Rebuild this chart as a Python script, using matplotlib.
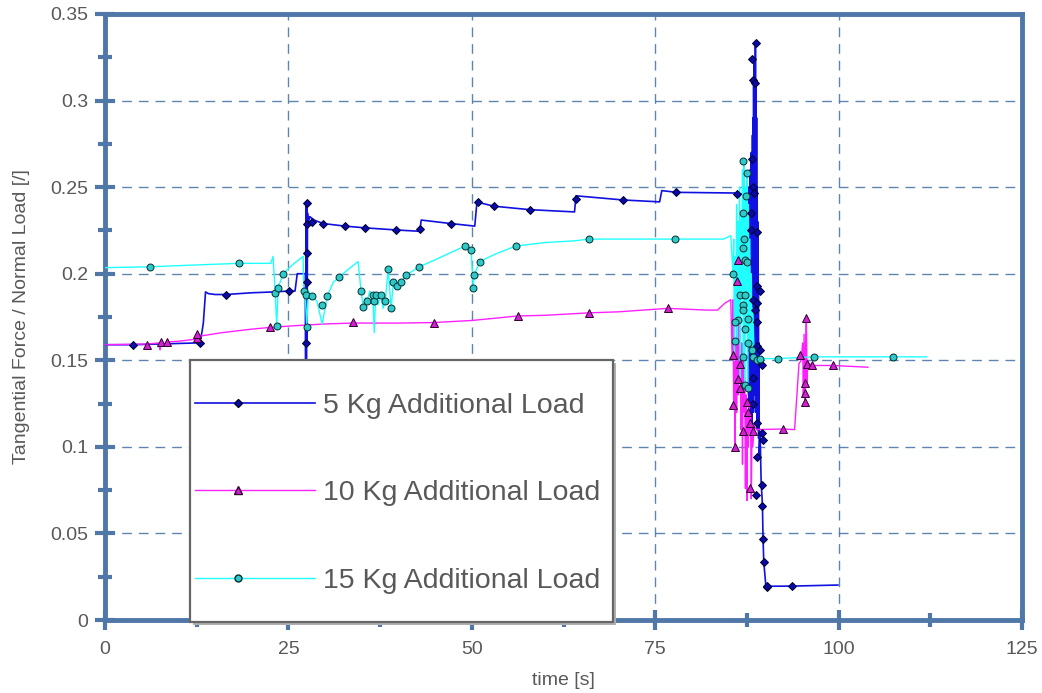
from matplotlib import pyplot as plt
from matplotlib.lines import Line2D
from matplotlib.patches import Rectangle
from matplotlib.legend_handler import HandlerLine2DCompound
from matplotlib.ticker import MultipleLocator

# 5 Kg additional load: line samples
t5 = [0.0, 3.8, 8.0, 12.3, 12.9, 13.2, 13.4, 13.7, 14.1, 15.0, 16.5, 20.0, 23.0, 25.1, 25.9, 26.2,
      27.0, 27.3, 27.35, 27.4, 27.45, 27.5, 27.55, 27.6, 27.7, 27.9, 28.5, 29.7, 32.7, 35.4, 39.6,
      42.9, 43.1, 47.1, 50.4, 50.7, 53.0, 57.9, 64.0, 64.2, 70.6, 75.6, 75.9, 77.9, 86.1, 87.0,
      87.60, 87.65, 87.70, 87.74, 87.78, 87.82, 87.86, 87.90, 87.94, 87.98, 88.02, 88.06, 88.10,
      88.14, 88.18, 88.22, 88.26, 88.30, 88.34, 88.38, 88.42, 88.46, 88.50, 88.54, 88.58, 88.62,
      88.66, 88.70, 88.74, 88.78, 88.82, 88.86, 88.90, 88.94, 88.98, 89.02, 89.06, 89.10, 89.14,
      89.18, 89.30, 89.45, 89.55, 89.62, 89.70, 89.80, 90.1, 90.3, 93.7, 99.8, 99.9]
f5 = [0.159, 0.159, 0.1595, 0.16, 0.16, 0.166, 0.1715, 0.1895, 0.1885, 0.188, 0.188, 0.189, 0.1895,
      0.19, 0.19, 0.2, 0.2, 0.2, 0.14, 0.24, 0.15, 0.241, 0.16, 0.235, 0.229, 0.233, 0.231, 0.229,
      0.2275, 0.2265, 0.2253, 0.2245, 0.231, 0.229, 0.2275, 0.2414, 0.239, 0.237, 0.2357, 0.245,
      0.2426, 0.2415, 0.248, 0.247, 0.2466, 0.246,
      0.246, 0.17, 0.25, 0.13, 0.24, 0.12, 0.25, 0.14, 0.26, 0.115, 0.25, 0.13, 0.27,
      0.12, 0.26, 0.11, 0.28, 0.13, 0.29, 0.12, 0.31, 0.14, 0.324, 0.15, 0.312, 0.13,
      0.333, 0.12, 0.31, 0.14, 0.29, 0.11, 0.25, 0.12, 0.23, 0.11, 0.19, 0.105, 0.16,
      0.094, 0.108, 0.078, 0.072, 0.066, 0.047, 0.0335, 0.019, 0.0195, 0.0196, 0.0202, 0.0202]
# 5 Kg markers
m5x = [3.8, 12.9, 16.5, 25.1, 27.45, 27.5, 27.55, 27.5, 27.5, 28.2, 29.7, 32.7, 35.4, 39.6, 43.0,
       47.1, 50.8, 53.0, 57.9, 64.2, 70.6, 77.9, 86.1,
       88.7, 88.2, 88.3, 88.6, 88.2, 88.3, 88.45, 88.1, 88.1, 88.9, 88.9, 89.3, 88.3, 88.9, 88.6,
       88.9, 88.9, 89.3, 89.6, 88.3, 88.3, 88.9, 89.6, 89.7, 88.9, 89.6, 88.7, 89.6, 89.7, 89.8,
       90.2, 90.3, 93.7]
m5y = [0.159, 0.16, 0.188, 0.19, 0.16, 0.195, 0.212, 0.241, 0.229, 0.23, 0.229, 0.2275, 0.2265,
       0.2253, 0.2258, 0.229, 0.2414, 0.239, 0.237, 0.243, 0.2426, 0.247, 0.246,
       0.333, 0.324, 0.312, 0.31, 0.266, 0.25, 0.2466, 0.235, 0.225, 0.224, 0.193, 0.19, 0.185,
       0.183, 0.179, 0.172, 0.158, 0.156, 0.147, 0.14, 0.125, 0.114, 0.108, 0.104, 0.094, 0.078,
       0.072, 0.066, 0.047, 0.0335, 0.019, 0.0195, 0.0196]

# 10 Kg additional load
t10 = [0.0, 5.7, 7.3, 7.5, 7.7, 7.9, 8.4, 10.0, 12.0, 12.5, 13.0, 16.0, 20.0, 22.5, 26.0, 30.0,
       33.8, 40.0, 44.8, 50.0, 56.3, 60.0, 66.0, 70.0, 76.7, 82.0, 83.5, 84.5, 85.3,
       85.5, 85.6, 85.7, 85.8, 85.9, 86.0, 86.1, 86.2, 86.3, 86.4, 86.5, 86.6, 86.7, 86.8, 86.9,
       87.0, 87.1, 87.2, 87.3, 87.4, 87.5, 87.6, 87.7, 87.8, 87.9, 88.0, 88.1, 88.2, 88.3, 88.5,
       88.8, 92.4, 94.0, 94.6, 94.9, 95.1, 95.2, 95.3, 95.4, 95.5, 95.6, 95.7, 95.8, 96.0, 96.5,
       99.2, 104.0]
f10 = [0.159, 0.1594, 0.16, 0.156, 0.162, 0.158, 0.1606, 0.161, 0.162, 0.163, 0.164, 0.166, 0.168,
       0.169, 0.170, 0.171, 0.1715, 0.1715, 0.1718, 0.173, 0.1756, 0.176, 0.1774, 0.178, 0.18,
       0.179, 0.179, 0.183, 0.185,
       0.15, 0.185, 0.125, 0.17, 0.10, 0.16, 0.12, 0.208, 0.13, 0.196, 0.14, 0.18, 0.11, 0.16,
       0.09, 0.15, 0.12, 0.14, 0.076, 0.13, 0.069, 0.12, 0.10, 0.125, 0.108, 0.118, 0.07, 0.112,
       0.10, 0.112, 0.110, 0.1103, 0.110, 0.148, 0.150, 0.160, 0.13, 0.165, 0.126, 0.155, 0.1745,
       0.137, 0.15, 0.148, 0.147, 0.147, 0.146]
m10x = [5.7, 7.6, 8.4, 12.5, 12.6, 22.5, 33.8, 44.8, 56.3, 66.0, 76.7,
        86.3, 86.15, 85.6, 86.6, 86.3, 86.6, 85.6, 85.9, 87.5, 87.65, 87.9, 87.0, 88.3, 87.9,
        92.4, 94.7, 95.6, 95.4, 95.4, 95.4, 95.7, 96.4, 99.2]
m10y = [0.159, 0.1606, 0.1606, 0.163, 0.165, 0.169, 0.172, 0.1715, 0.1756, 0.1774, 0.18,
        0.208, 0.196, 0.153, 0.148, 0.139, 0.134, 0.124, 0.1, 0.126, 0.12, 0.114, 0.109, 0.109,
        0.076, 0.1103, 0.153, 0.1745, 0.137, 0.131, 0.126, 0.148, 0.147, 0.147]

# 15 Kg additional load
t15 = [0.0, 6.1, 12.0, 18.3, 22.6, 22.9, 23.2, 23.4, 23.6, 24.3, 25.5, 27.0, 27.1, 27.3, 27.5,
       27.7, 28.2, 28.9, 29.6, 30.3, 31.1, 31.9, 33.0, 34.5, 34.9, 35.2, 35.5, 35.7, 36.1, 36.5,
       36.7, 36.9, 37.2, 37.6, 37.9, 38.2, 38.6, 39.0, 39.3, 39.8, 40.3, 41.0, 42.8, 45.0, 47.0,
       49.1, 49.9, 50.2, 50.3, 51.1, 53.0, 56.0, 60.0, 64.0, 66.0, 70.0, 77.7, 82.0, 84.3, 85.3,
       85.6, 85.7, 85.8, 85.9, 86.0, 86.1, 86.2, 86.3, 86.4, 86.5, 86.6, 86.7, 86.8, 86.9, 87.0,
       87.1, 87.2, 87.3, 87.4, 87.5, 87.6, 87.7, 87.8, 87.9, 88.0, 88.1, 88.2, 88.3, 88.5, 88.9,
       89.3, 91.7, 96.6, 107.4, 112.0]
f15 = [0.2035, 0.204, 0.205, 0.206, 0.206, 0.21, 0.189, 0.17, 0.192, 0.2, 0.205, 0.21, 0.19,
       0.188, 0.169, 0.19, 0.187, 0.184, 0.171, 0.187, 0.195, 0.198, 0.202, 0.207, 0.19, 0.181,
       0.186, 0.184, 0.19, 0.188, 0.166, 0.188, 0.182, 0.188, 0.18, 0.184, 0.203, 0.18, 0.195,
       0.193, 0.195, 0.199, 0.204, 0.208, 0.212, 0.216, 0.2137, 0.192, 0.199, 0.207, 0.211,
       0.216, 0.218, 0.219, 0.22, 0.22, 0.22, 0.22, 0.22, 0.222,
       0.2, 0.22, 0.15, 0.21, 0.172, 0.24, 0.16, 0.23, 0.173, 0.25, 0.14, 0.235, 0.19, 0.26,
       0.152, 0.265, 0.136, 0.25, 0.17, 0.258, 0.134, 0.24, 0.16, 0.22, 0.155, 0.2, 0.156, 0.18,
       0.152, 0.15, 0.151, 0.151, 0.152, 0.152, 0.152]
m15x = [6.1, 18.3, 23.2, 23.4, 23.6, 24.3, 27.1, 27.5, 27.4, 28.2, 29.6, 30.3, 31.9, 34.9, 35.2,
        35.7, 36.5, 36.7, 36.9, 37.6, 38.2, 38.6, 39.0, 39.3, 39.8, 40.3, 41.0, 42.8, 49.1, 49.9,
        50.2, 50.3, 51.1, 56.0, 66.0, 77.7,
        87.0, 87.5, 87.4, 86.9, 87.1, 87.0, 87.2, 87.5, 85.6, 86.6, 87.2, 86.9, 87.0, 86.3, 85.9,
        87.65, 87.2, 85.9, 87.65, 88.2, 87.0, 88.3, 88.9, 89.3, 87.2, 87.65, 91.7, 96.6, 107.4]
m15y = [0.204, 0.206, 0.189, 0.17, 0.192, 0.2, 0.19, 0.169, 0.188, 0.187, 0.182, 0.187, 0.198,
        0.19, 0.181, 0.184, 0.188, 0.184, 0.188, 0.188, 0.184, 0.203, 0.18, 0.195, 0.193, 0.195,
        0.199, 0.204, 0.216, 0.2137, 0.192, 0.199, 0.207, 0.216, 0.22, 0.22,
        0.265, 0.258, 0.245, 0.235, 0.22, 0.215, 0.208, 0.207, 0.2, 0.188, 0.188, 0.182, 0.179,
        0.173, 0.172, 0.174, 0.168, 0.161, 0.16, 0.156, 0.152, 0.152, 0.15, 0.151, 0.136, 0.134,
        0.151, 0.152, 0.152]

labels = ["5 Kg Additional Load", "10 Kg Additional Load", "15 Kg Additional Load"]

frame = "#4f77a8"
txt = "#595959"
plt.rcParams["font.family"] = ["Liberation Sans", "DejaVu Sans"]


class OffsetMarker(HandlerLine2DCompound):
    # legend marker sits at about a third of the sample line, as in the original
    def get_xdata(self, legend, xdescent, ydescent, width, height, fontsize):
        return [-xdescent, -xdescent + width], [-xdescent + 0.36 * width]


fig = plt.figure(figsize=(10.42, 6.93), dpi=100)
ax = fig.add_axes([0.1008, 0.1053, 0.8800, 0.8745])

ax.plot(t5, f5, color="#1010e0", lw=1.2, zorder=3)
ax.plot(t10, f10, color="#ff20ff", lw=1.0, zorder=3)
ax.plot(t15, f15, color="#20ffff", lw=1.0, zorder=3)
ax.plot(m5x, m5y, ls="none", marker="D", ms=4.5, mfc="#0a0aa8", mec="#000030", mew=0.7, zorder=4)
ax.plot(m10x, m10y, ls="none", marker="^", ms=6, mfc="#d020d0", mec="#300030", mew=0.7, zorder=4)
ax.plot(m15x, m15y, ls="none", marker="o", ms=5, mfc="#30c8c8", mec="#003030", mew=0.7, zorder=4)

ax.set_xlim(0, 125)
ax.set_ylim(0, 0.35)
ax.xaxis.set_major_locator(MultipleLocator(25))
ax.xaxis.set_minor_locator(MultipleLocator(12.5))
ax.yaxis.set_minor_locator(MultipleLocator(0.025))
ax.set_yticks([0, 0.05, 0.1, 0.15, 0.2, 0.25, 0.3, 0.35])
ax.set_yticklabels(["0", "0.05", "0.1", "0.15", "0.2", "0.25", "0.3", "0.35"])

ax.grid(True, which="major", color=frame, lw=1, ls=(0, (7, 5)), alpha=0.9)
for s in ax.spines.values():
    s.set_color(frame)
    s.set_linewidth(3.5)
ax.tick_params(which="major", direction="inout", length=14, width=3, color=frame,
               labelcolor=txt, labelsize=14)
ax.tick_params(axis="x", which="major", pad=8)
ax.tick_params(axis="y", which="major", pad=5)
ax.tick_params(which="minor", direction="inout", length=10, width=3, color=frame)

ax.set_xlabel("time [s]", color=txt, fontsize=14, labelpad=10)
ax.set_ylabel("Tangential Force / Normal Load [/]", color=txt, fontsize=14, labelpad=15)

# legend box with drop shadow
ax.add_patch(Rectangle((0.0960, -0.0083), 0.4613, 0.4323, transform=ax.transAxes,
                       facecolor="#b0b0b0", edgecolor="none", clip_on=False, zorder=9))
ax.add_patch(Rectangle((0.0927, -0.0033), 0.4613, 0.4323, transform=ax.transAxes,
                       facecolor="white", edgecolor="#666666", lw=1.6, clip_on=False, zorder=9))

handles = [
    Line2D([], [], color="#1010e0", lw=1.2, marker="D", ms=4.5, mfc="#0a0aa8", mec="#000030"),
    Line2D([], [], color="#ff20ff", lw=1.0, marker="^", ms=6, mfc="#d020d0", mec="#300030"),
    Line2D([], [], color="#20ffff", lw=1.0, marker="o", ms=5, mfc="#30c8c8", mec="#003030"),
]
leg = ax.legend(handles, labels, loc="center left", bbox_to_anchor=(0.0981, 0.2096),
                borderaxespad=0, borderpad=0, fontsize=20.5, handlelength=4.2,
                handletextpad=0.3, labelspacing=2.16, frameon=False, labelcolor=txt,
                handler_map={Line2D: OffsetMarker()})
leg.set_zorder(10)

plt.savefig("out.png", dpi=100)
